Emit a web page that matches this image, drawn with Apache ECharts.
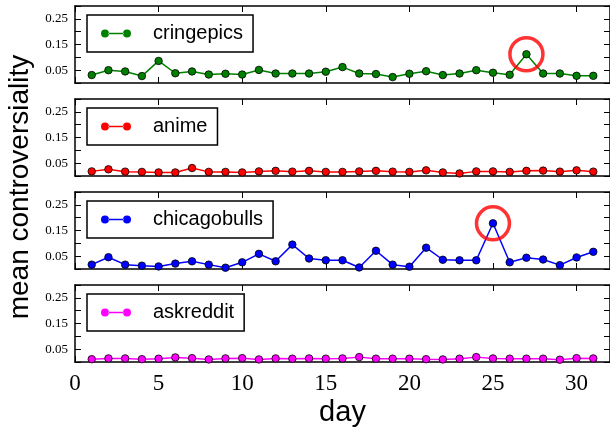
<!DOCTYPE html>
<html>
<head>
<meta charset="utf-8">
<title>mean controversiality</title>
<script src="https://cdn.jsdelivr.net/npm/echarts@6/dist/echarts.min.js"></script>
<style>
    html, body { margin: 0; padding: 0; background: #fff; }
    #chart { width: 610px; height: 433px; }
</style>
</head>
<body>
<div id="chart"></div>
<script>
// data
var days = [1, 2, 3, 4, 5, 6, 7, 8, 9, 10, 11, 12, 13, 14, 15, 16,
    17, 18, 19, 20, 21, 22, 23, 24, 25, 26, 27, 28, 29, 30, 31];

var subreddits = ['cringepics', 'anime', 'chicagobulls', 'askreddit'];
var colors = ['#008000', '#ff0000', '#0000ff', '#ff00ff'];

var cringepics = [0.031, 0.050, 0.045, 0.027, 0.086, 0.038, 0.045, 0.033, 0.036, 0.033,
    0.051, 0.037, 0.037, 0.037, 0.044, 0.062, 0.037, 0.035, 0.023, 0.036,
    0.046, 0.031, 0.037, 0.050, 0.040, 0.032, 0.112, 0.037, 0.037, 0.028, 0.028];
var anime = [0.018, 0.026, 0.017, 0.016, 0.014, 0.014, 0.031, 0.016, 0.016, 0.014,
    0.018, 0.020, 0.017, 0.020, 0.016, 0.016, 0.018, 0.020, 0.017, 0.016,
    0.022, 0.014, 0.010, 0.018, 0.018, 0.016, 0.020, 0.021, 0.017, 0.022, 0.017];
var chicagobulls = [0.017, 0.046, 0.017, 0.013, 0.010, 0.021, 0.030, 0.017, 0.005, 0.026,
    0.059, 0.030, 0.095, 0.041, 0.034, 0.034, 0.006, 0.071, 0.017, 0.009,
    0.083, 0.036, 0.034, 0.034, 0.178, 0.026, 0.044, 0.037, 0.015, 0.045, 0.067];
var askreddit = [0.011, 0.014, 0.014, 0.011, 0.013, 0.018, 0.015, 0.010, 0.014, 0.015,
    0.010, 0.014, 0.013, 0.014, 0.013, 0.014, 0.019, 0.013, 0.013, 0.013,
    0.011, 0.010, 0.013, 0.019, 0.014, 0.013, 0.013, 0.013, 0.009, 0.015, 0.014];

// days circled in red (null = none in that panel)
var circledDays = [27, null, 25, null];

// y tick labels that are shown, the others are bare ticks
var yTickLabels = ['0.05', '0.15', '0.25'];

;(function (window, document, undefined) {
    "use strict";

    var values = [cringepics, anime, chicagobulls, askreddit];

    // panel layout
    var panelTops = [6, 99, 192, 285],
        panelHeight = 77,
        plotLeft = 75,
        plotWidth = 536;

    var black = '#000';
    var serif = 'Liberation Serif';
    var sans = 'Liberation Sans';

    // legend icon: two dots joined by a line (no overlap, so no holes)
    var legendIcon = 'path://M0,4a4,4 0 1,0 8,0a4,4 0 1,0 -8,0Z' +
        'M22,4a4,4 0 1,0 8,0a4,4 0 1,0 -8,0Z' +
        'M7.5,3.3L22.5,3.3L22.5,4.7L7.5,4.7Z';

    var grid = [], xAxis = [], yAxis = [], series = [], legend = [];

    function xAxisFor(i, pos, last) {
        return {
            type: 'value', gridIndex: i, position: pos,
            min: 0, max: 32, interval: 5,
            axisLine: { show: true, onZero: false, lineStyle: { color: black, width: 1.5 } },
            axisTick: { show: true, inside: true, length: 6, lineStyle: { color: black, width: 1 } },
            axisLabel: {
                show: last, color: black, fontFamily: serif, fontSize: 23,
                margin: 10, showMaxLabel: false
            },
            splitLine: { show: false },
            name: last ? 'day' : '',
            nameLocation: 'middle',
            nameGap: 36,
            nameTextStyle: { color: black, fontFamily: sans, fontSize: 29 }
        };
    }

    function yAxisFor(i, pos) {
        return {
            type: 'value', gridIndex: i, position: pos,
            min: 0, max: 0.3, interval: 0.05,
            axisLine: { show: true, onZero: false, lineStyle: { color: black, width: 1.5 } },
            axisTick: { show: true, inside: true, length: 6, lineStyle: { color: black, width: 1 } },
            axisLabel: {
                show: pos === 'left', color: black, fontFamily: serif, fontSize: 13, margin: 7,
                formatter: function (v) {
                    var s = v.toFixed(2);
                    return yTickLabels.indexOf(s) !== -1 ? s : '';
                }
            },
            splitLine: { show: false }
        };
    }

    for (var i = 0; i < subreddits.length; i++) {
        var last = i === subreddits.length - 1;
        grid.push({ left: plotLeft, top: panelTops[i], width: plotWidth, height: panelHeight });

        xAxis.push(xAxisFor(i, 'bottom', last));
        xAxis.push(xAxisFor(i, 'top', false));
        yAxis.push(yAxisFor(i, 'left'));
        yAxis.push(yAxisFor(i, 'right'));

        var vals = values[i];
        series.push({
            name: subreddits[i],
            type: 'line',
            xAxisIndex: 2 * i,
            yAxisIndex: 2 * i,
            data: days.map(function (d, j) { return [d, vals[j]]; }),
            symbol: 'circle',
            symbolSize: 7.5,
            lineStyle: { color: colors[i], width: 1.5 },
            itemStyle: { color: colors[i], borderColor: black, borderWidth: 0.8 },
            z: 3
        });

        // red circle round the spike
        if (circledDays[i] !== null) {
            var k = days.indexOf(circledDays[i]);
            series.push({
                type: 'scatter',
                xAxisIndex: 2 * i,
                yAxisIndex: 2 * i,
                data: [[days[k], vals[k]]],
                symbol: 'circle',
                symbolSize: 33,
                itemStyle: { color: 'rgba(0,0,0,0)', borderColor: '#ff0000', borderWidth: 3.5 },
                silent: true,
                z: 4
            });
        }

        legend.push({
            data: [{ name: subreddits[i], icon: legendIcon }],
            left: 87,
            top: panelTops[i] + 9,
            orient: 'horizontal',
            selectedMode: false,
            backgroundColor: '#fff',
            borderColor: black,
            borderWidth: 1.5,
            borderRadius: 0,
            padding: [8, 10, 8, 14],
            itemWidth: 30,
            itemHeight: 8,
            itemStyle: { borderWidth: 0 },
            textStyle: {
                color: black, fontFamily: sans, fontSize: 20, lineHeight: 21,
                padding: [0, 0, 0, 17]
            }
        });
    }

    var chart = echarts.init(document.getElementById('chart'), null, { renderer: 'canvas' });
    chart.setOption({
        animation: false,
        backgroundColor: '#fff',
        grid: grid,
        xAxis: xAxis,
        yAxis: yAxis,
        legend: legend,
        series: series,
        graphic: [{
            type: 'text',
            x: 20,
            y: 187,
            rotation: Math.PI / 2,
            style: {
                text: 'mean controversiality',
                font: '28px "Liberation Sans"',
                fill: black,
                align: 'center',
                verticalAlign: 'middle',
                textAlign: 'center',
                textVerticalAlign: 'middle'
            }
        }]
    });

}(this, this.document));
</script>
</body>
</html>
